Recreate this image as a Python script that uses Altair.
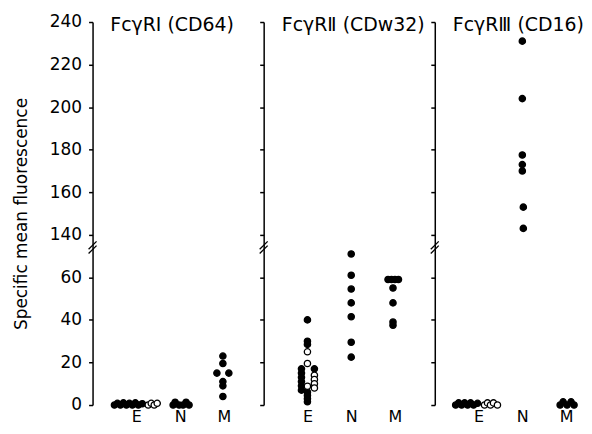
import altair as alt
import pandas as pd

FONT = "DejaVu Sans"
CATS = ["E", "N", "M"]
TITLES = ["FcγRI (CD64)", "FcγRⅡ (CDw32)", "FcγRⅢ (CD16)"]
Y_TICKS = [0, 20, 40, 60, 140, 160, 180, 200, 220, 240]

# ---- FcγRI (CD64) ----
CD64_E_FILLED = [0, 0.8, 0, 1.0, 0, 0.8, 0, 1.0, 0, 0.6]
CD64_E_FILLED_DX = [-22, -19, -16, -13, -10, -7, -4, -1, 2, 6]
CD64_E_OPEN = [0, 0.8, 0, 0.8]
CD64_E_OPEN_DX = [12, 15, 18, 21]
CD64_N_FILLED = [0, 1.3, 0, 0, 1.3, 0]
CD64_N_FILLED_DX = [-7, -5, -1, 3, 6, 9]
CD64_M_FILLED = [23, 19.5, 15, 15, 11, 9, 4]
CD64_M_FILLED_DX = [-1, -1, -7, 5, -1, -1, -1]

# ---- FcγRII (CDw32) ----
CDW32_E_FILLED = [40, 30, 28.5, 17, 17, 15, 13, 11, 9, 7, 6, 4.5, 3, 1.5]
CDW32_E_FILLED_DX = [0, 0, 0, -6, 7, -6, -6, -6, -6, -6, 0, 0, 0, 0]
CDW32_E_OPEN = [25, 19.5, 14, 12, 10, 8, 8.8]
CDW32_E_OPEN_DX = [0, 0, 7, 7, 7, 7, 0]
CDW32_N_FILLED = [71, 61, 54.5, 48, 41.5, 29.5, 22.5]
CDW32_N_FILLED_DX = [0, 0, 0, 0, 0, 0, 0]
CDW32_M_FILLED = [59, 59, 59, 59, 55, 48, 39, 37.5]
CDW32_M_FILLED_DX = [-7, -3.5, 0, 3.5, -2, -2, -2, -2]

# ---- FcγRIII (CD16) ----
CD16_E_FILLED = [0, 1.0, 0, 1.0, 0, 1.0, 0, 0.8]
CD16_E_FILLED_DX = [-23, -20, -17, -14, -11, -8, -5, -1]
CD16_E_OPEN = [0, 1.0, 0, 1.0, 0]
CD16_E_OPEN_DX = [6, 9, 12, 15, 19]
CD16_N_FILLED = [231, 204, 177.5, 173, 170, 153, 143]
CD16_N_FILLED_DX = [0, 0, 0, 0, 0, 1, 1]
CD16_M_FILLED = [0, 1.5, 0, 1.5, 0]
CD16_M_FILLED_DX = [-6, -3, 1, 5, 8]

GROUPS = [
    (0, "E", "filled", CD64_E_FILLED, CD64_E_FILLED_DX),
    (0, "E", "open", CD64_E_OPEN, CD64_E_OPEN_DX),
    (0, "N", "filled", CD64_N_FILLED, CD64_N_FILLED_DX),
    (0, "M", "filled", CD64_M_FILLED, CD64_M_FILLED_DX),
    (1, "E", "filled", CDW32_E_FILLED, CDW32_E_FILLED_DX),
    (1, "E", "open", CDW32_E_OPEN, CDW32_E_OPEN_DX),
    (1, "N", "filled", CDW32_N_FILLED, CDW32_N_FILLED_DX),
    (1, "M", "filled", CDW32_M_FILLED, CDW32_M_FILLED_DX),
    (2, "E", "filled", CD16_E_FILLED, CD16_E_FILLED_DX),
    (2, "E", "open", CD16_E_OPEN, CD16_E_OPEN_DX),
    (2, "N", "filled", CD16_N_FILLED, CD16_N_FILLED_DX),
    (2, "M", "filled", CD16_M_FILLED, CD16_M_FILLED_DX),
]

rows = []
for p, cat, kind, vals, dxs in GROUPS:
    for v, dx in zip(vals, dxs):
        rows.append({"panel": p, "cat": cat, "kind": kind, "value": v, "dx": dx})
df = pd.DataFrame(rows)

STEP = 44          # pixel spacing between categories
H = 385
WIDTHS = [172, 172, 146]
TITLE_X = [80, 90, 84]

# broken axis: values >= 100 are shifted down by 60 (140 -> 80)
y_vals = [v if v < 100 else v - 60 for v in Y_TICKS]
y_scale = alt.Scale(domain=[0, 180], nice=False, zero=False)


def panel(i):
    w = WIDTHS[i]
    d = df[df.panel == i]
    x_scale = alt.Scale(domain=[-1, w / STEP - 1], nice=False, zero=False)
    first = i == 0
    yaxis = alt.Axis(
        values=y_vals,
        labelExpr="datum.value >= 80 ? datum.value + 60 : datum.value",
        labels=first,
        title="Specific mean fluorescence" if first else None,
        grid=False,
    )
    xaxis = alt.Axis(
        values=[0, 1, 2],
        labelExpr="['E','N','M'][datum.value]",
        domain=False, ticks=False, grid=False, title=None,
        labelFontSize=16, labelPadding=4, labelFont=FONT, labelColor="black",
    )
    pts = alt.Chart(d).transform_calculate(
        yp="datum.value >= 100 ? datum.value - 60 : datum.value",
        xp=f"indexof(['E','N','M'], datum.cat) + datum.dx / {STEP}",
    ).mark_point(shape="circle", filled=True, size=40, stroke="black",
                 strokeWidth=1.3, opacity=1).encode(
        x=alt.X("xp:Q", scale=x_scale, axis=xaxis),
        y=alt.Y("yp:Q", scale=y_scale, axis=yaxis),
        fill=alt.Fill("kind:N", scale=alt.Scale(domain=["filled", "open"], range=["black", "white"]), legend=None),
    )
    ttl = alt.Chart(pd.DataFrame({"t": [TITLES[i]]})).mark_text(
        font=FONT, fontSize=19, align="center", baseline="alphabetic", color="black"
    ).encode(text="t:N", x=alt.value(TITLE_X[i]), y=alt.value(9))
    br1 = alt.Chart(pd.DataFrame({"a": [0]})).mark_rule(color="black", strokeWidth=1.3).encode(
        x=alt.value(-4), x2=alt.value(4), y=alt.datum(71.2), y2=alt.datum(74.9))
    br2 = alt.Chart(pd.DataFrame({"a": [0]})).mark_rule(color="black", strokeWidth=1.3).encode(
        x=alt.value(-4), x2=alt.value(4), y=alt.datum(73.2), y2=alt.datum(76.9))
    return alt.layer(pts, ttl, br1, br2).properties(width=w, height=H)


chart = alt.hconcat(panel(0), panel(1), panel(2), spacing=0, bounds="flush").properties(
    padding={"left": 4, "top": 4, "right": 0, "bottom": 0}
).configure_view(stroke=None).configure_axis(
    domainColor="black", domainWidth=1.5, tickColor="black", tickWidth=1.5, tickSize=4,
    labelFont=FONT, labelFontSize=17, labelColor="black", labelPadding=7,
    titleFont=FONT, titleFontSize=17, titleFontWeight="normal", titleColor="black", titlePadding=19,
)

chart.save("out.html", embed_options={"renderer": "svg", "actions": False})
